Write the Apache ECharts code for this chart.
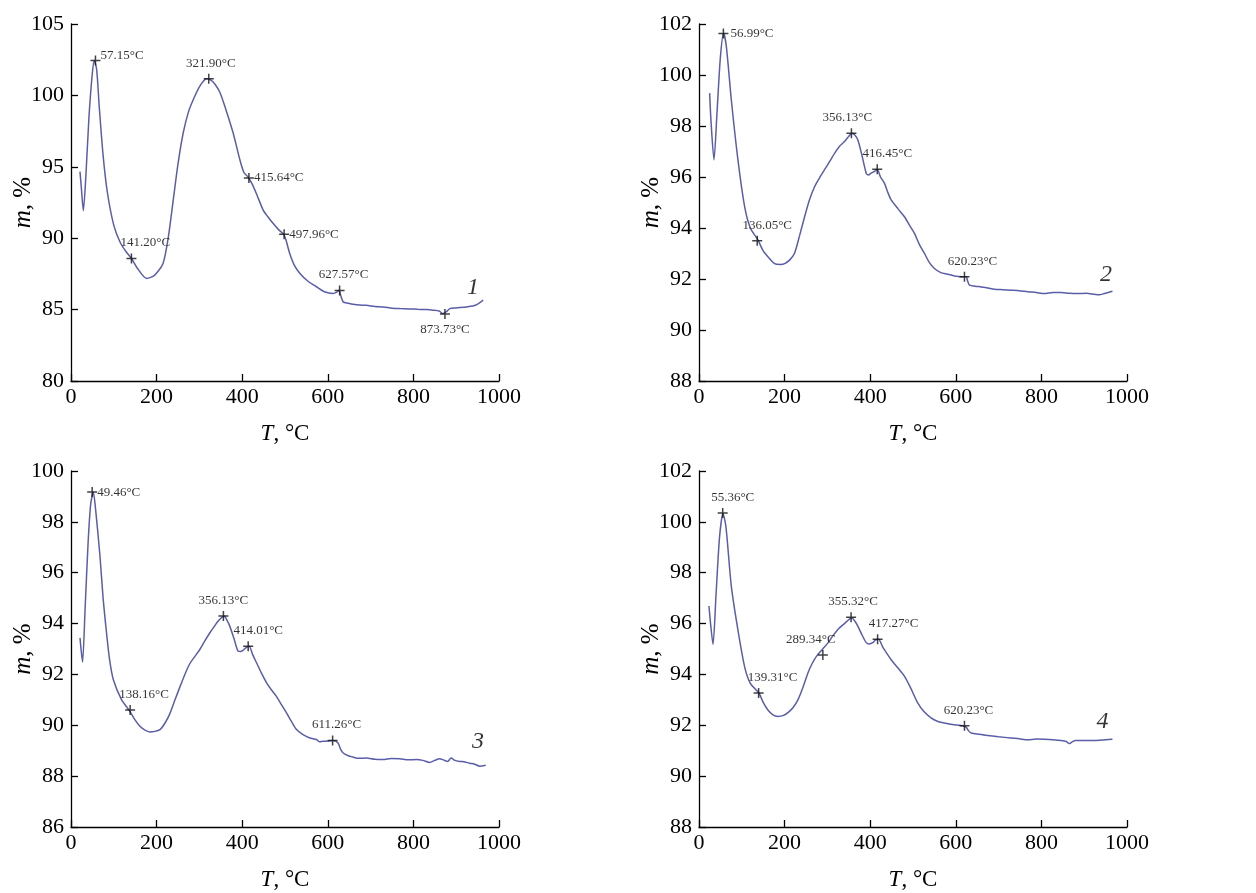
<!DOCTYPE html>
<html><head><meta charset="utf-8">
<script src="https://cdn.jsdelivr.net/npm/echarts@6/dist/echarts.min.js"></script>
<style>html,body{margin:0;padding:0;background:#fff}#c{width:1256px;height:893px}</style>
</head><body><div id="c"></div>
<script>
// ---- data: TGA curves (T °C, m %) ----
const curve1 = [[21,94.66],[24,93.6],[28.8,91.93],[35,94.5],[42,98.5],[50,101.6],[54.5,102.45],[60,101.8],[66,99.2],[75,95.8],[85,93.2],[100,90.9],[115,89.7],[130,89.0],[141.2,88.58],[155,87.9],[176.6,87.18],[195,87.4],[215,88.23],[228,90.2],[239,92.7],[250,95.2],[262,97.35],[275,98.9],[285.6,99.7],[300,100.6],[316.7,101.16],[325,101.1],[336,100.8],[348,100.2],[362,99.0],[379,97.35],[394.5,95.5],[404,94.6],[414,94.27],[423,93.8],[433.5,93.1],[449,91.97],[460,91.5],[472,91.04],[485,90.6],[497,90.27],[503,89.8],[511,88.93],[522,88.1],[535,87.53],[553,87.0],[573.5,86.6],[592,86.25],[612.5,86.13],[620,86.2],[626.5,86.36],[630,86.0],[636,85.54],[648,85.45],[659,85.38],[675,85.32],[690,85.3],[710,85.22],[730,85.18],[750,85.1],[768,85.07],[790,85.05],[810,85.02],[830,85.0],[846,84.96],[860,84.9],[869,84.72],[877,84.85],[885,85.07],[900,85.12],[924,85.19],[945,85.3],[963,85.66]];
const curve2 = [[24.9,99.29],[28,98.2],[35,96.67],[42,98.5],[50,100.7],[57.6,101.65],[64,101.1],[75.5,99.03],[91,96.67],[106.6,94.84],[120,94.0],[137.7,93.53],[150,93.1],[161,92.87],[176.6,92.6],[190,92.57],[200,92.6],[212,92.75],[223,93.0],[235,93.7],[246.7,94.44],[258,95.1],[270,95.62],[281,95.95],[293,96.28],[305,96.6],[316.7,96.93],[328,97.2],[340,97.39],[350,97.6],[357,97.72],[364,97.65],[371,97.46],[380,96.9],[390.7,96.15],[396,96.08],[402,96.15],[410,96.22],[416.3,96.3],[424,96.0],[433.5,95.75],[441,95.4],[449,95.1],[465,94.75],[480,94.44],[492,94.1],[503.5,93.79],[515,93.35],[527,93.0],[538,92.65],[550,92.41],[565,92.25],[581,92.19],[597,92.12],[612.5,92.09],[624,92.09],[628,91.9],[632,91.76],[645,91.72],[659,91.69],[675,91.65],[690,91.6],[710,91.58],[729,91.56],[748,91.54],[768,91.5],[788,91.47],[807,91.43],[827,91.47],[846,91.47],[865,91.44],[885,91.43],[905,91.44],[924,91.4],[935,91.38],[947,91.43],[966,91.52]];
const curve3 = [[21,93.44],[24,92.9],[27,92.48],[33,94.6],[40,97.2],[46,98.7],[52,99.17],[58,98.4],[67.7,96.65],[75,95.0],[83,93.64],[90,92.6],[98.8,91.8],[118,91.01],[137.7,90.55],[150,90.2],[161,89.96],[172,89.82],[184,89.74],[196,89.76],[207.8,89.83],[220,90.1],[231,90.46],[243,91.0],[254.5,91.51],[266,92.0],[277.8,92.43],[290,92.72],[301,92.98],[312,93.3],[324.5,93.64],[334,93.87],[344,94.1],[351,94.22],[357.6,94.3],[364,94.15],[371,93.9],[381,93.4],[390.7,92.91],[396,92.9],[402,92.95],[409,93.05],[416.3,93.11],[424,92.8],[433.5,92.46],[445,92.05],[457,91.67],[468,91.4],[480,91.14],[492,90.8],[503.5,90.49],[515,90.15],[527,89.83],[542,89.63],[558,89.5],[573.5,89.44],[580,89.35],[589,89.37],[600,89.38],[612.5,89.4],[624,89.3],[630,89.05],[636,88.91],[648,88.8],[659,88.75],[672,88.7],[690,88.71],[710,88.66],[729,88.65],[748,88.69],[768,88.68],[788,88.64],[807,88.65],[822,88.62],[838,88.54],[850,88.62],[861,88.68],[870,88.64],[880,88.58],[888,88.71],[897,88.62],[908,88.58],[920,88.56],[931,88.51],[943,88.47],[955,88.39],[969,88.43]];
const curve4 = [[23.3,96.69],[27,96.0],[32.7,95.18],[40,97.2],[48,99.4],[56,100.33],[63,99.8],[75.5,97.47],[91,95.74],[106.6,94.3],[120,93.65],[140,93.27],[150,92.9],[161,92.6],[172,92.42],[184,92.35],[196,92.38],[207.8,92.5],[220,92.7],[231,93.0],[243,93.5],[254.5,94.06],[265,94.45],[276,94.75],[289,95.0],[301,95.23],[312,95.5],[324.5,95.77],[340,96.0],[357,96.23],[364,96.1],[371,95.9],[381,95.55],[390.7,95.25],[398,95.2],[406,95.25],[412,95.35],[419.5,95.38],[430,95.05],[440,94.8],[449,94.58],[465,94.25],[480,93.93],[495,93.45],[511,92.88],[525,92.55],[542,92.29],[558,92.15],[573.5,92.09],[592,92.03],[612.5,91.99],[624,91.93],[630,91.78],[636,91.7],[655,91.65],[674.7,91.6],[700,91.55],[729,91.5],[748,91.47],[768,91.43],[788,91.46],[807,91.45],[827,91.43],[846,91.4],[858,91.36],[865,91.28],[872,91.35],[880,91.4],[900,91.4],[924,91.4],[945,91.42],[966,91.45]];

// annotated points [T label, m]
const peaks1 = [[57.15,102.45],[141.20,88.58],[321.90,101.16],[415.64,94.22],[497.96,90.27],[627.57,86.34],[873.73,84.7]];
const peaks2 = [[56.99,101.63],[136.05,93.5],[356.13,97.72],[416.45,96.3],[620.23,92.09]];
const peaks3 = [[49.46,99.17],[138.16,90.6],[356.13,94.3],[414.01,93.11],[611.26,89.4]];
const peaks4 = [[55.36,100.35],[139.31,93.27],[289.34,94.76],[355.32,96.25],[417.27,95.38],[620.23,91.98]];

// curve numbers
const curveNames = ['1','2','3','4'];
const curveNamePos = [[939,86.5],[951,92.15],[951,89.35],[943,92.15]];

// axis ranges
const yRanges = [[80,105,5],[88,102,2],[86,100,2],[88,102,2]];
const xRange = [0,1000,200];

// ---- label placement (style only) ----
const labelPlace = [
  [['right',[-2,-5]],['top',[14,-2]],['top',[2,-2]],['right',[-2,0]],['right',[-2,0]],['top',[4,-2]],['bottom',[0,2]]],
  [['right',[0,0]],['top',[10,-2]],['top',[-4,-2]],['top',[10,-2]],['top',[8,-2]]],
  [['right',[-2,0]],['top',[14,-2]],['top',[0,-2]],['top',[10,-2]],['top',[4,-2]]],
  [['top',[10,-2]],['top',[14,-2]],['top',[-12,-2]],['top',[2,-2]],['top',[16,-2]],['top',[4,-2]]]
];

const curves = [curve1,curve2,curve3,curve4];
const peaks = [peaks1,peaks2,peaks3,peaks4];
const grids = [
  {left:71, top:24, width:428, height:357},
  {left:699, top:24, width:428, height:357},
  {left:71, top:471, width:428, height:356},
  {left:699, top:471, width:428, height:356}
];
const FONT = '"Liberation Serif","Times New Roman",serif';
const LINE = '#5a5ea8';
const plus = 'path://M4,0h1.4v4h4v1.4h-4v4h-1.4v-4h-4v-1.4h4z';

const xAxis = [], yAxis = [], series = [];
for (let i=0;i<4;i++){
  xAxis.push({
    type:'value', gridIndex:i, min:xRange[0], max:xRange[1], interval:xRange[2],
    axisLine:{show:true,onZero:false,lineStyle:{color:'#000',width:1.3}},
    axisTick:{show:true,inside:true,length:7,lineStyle:{color:'#000',width:1.3}},
    axisLabel:{color:'#000',fontFamily:FONT,fontSize:22,margin:5,formatter:(v)=>String(v)},
    splitLine:{show:false},
    name:'{i|T}, °C', nameLocation:'middle', nameGap:41,
    nameTextStyle:{color:'#000',fontFamily:FONT,fontSize:23,
      rich:{i:{fontStyle:'italic',fontFamily:FONT,fontSize:23,color:'#000'}}}
  });
  yAxis.push({
    type:'value', gridIndex:i, min:yRanges[i][0], max:yRanges[i][1], interval:yRanges[i][2],
    axisLine:{show:true,onZero:false,lineStyle:{color:'#000',width:1.3}},
    axisTick:{show:true,inside:true,length:7,lineStyle:{color:'#000',width:1.3}},
    axisLabel:{color:'#000',fontFamily:FONT,fontSize:22,margin:7,formatter:(v)=>String(v)},
    splitLine:{show:false},
    name:'{i|m}, %', nameLocation:'middle', nameGap:35, nameMoveOverlap:false,
    nameTextStyle:{color:'#000',fontFamily:FONT,fontSize:25,
      rich:{i:{fontStyle:'italic',fontFamily:FONT,fontSize:25,color:'#000'}}}
  });
  series.push({
    type:'line', xAxisIndex:i, yAxisIndex:i, data:curves[i], showSymbol:false,
    smooth:0.25, lineStyle:{color:LINE,width:1.5}, silent:true, z:2
  });
  series.push({
    type:'scatter', xAxisIndex:i, yAxisIndex:i, symbol:plus, symbolSize:10,
    itemStyle:{color:'#111'}, z:3,
    data: peaks[i].map((p,k)=>({
      value:p,
      label:{show:true, position:labelPlace[i][k][0], offset:labelPlace[i][k][1]}
    })),
    label:{show:true, color:'#000', fontFamily:FONT, fontSize:13, distance:2,
      formatter:(d)=>d.value[0].toFixed(2)+'°C'}
  });
  series.push({
    type:'scatter', xAxisIndex:i, yAxisIndex:i, symbolSize:0, z:3,
    data:[{value:curveNamePos[i], name:curveNames[i]}],
    label:{show:true, position:'inside', formatter:'{b}', color:'#000',
      fontFamily:FONT, fontStyle:'italic', fontSize:24}
  });
}

const chart = echarts.init(document.getElementById('c'), null, {renderer:'canvas'});
chart.setOption({
  backgroundColor:'#fff', animation:false,
  grid:grids, xAxis:xAxis, yAxis:yAxis, series:series
});
</script></body></html>
